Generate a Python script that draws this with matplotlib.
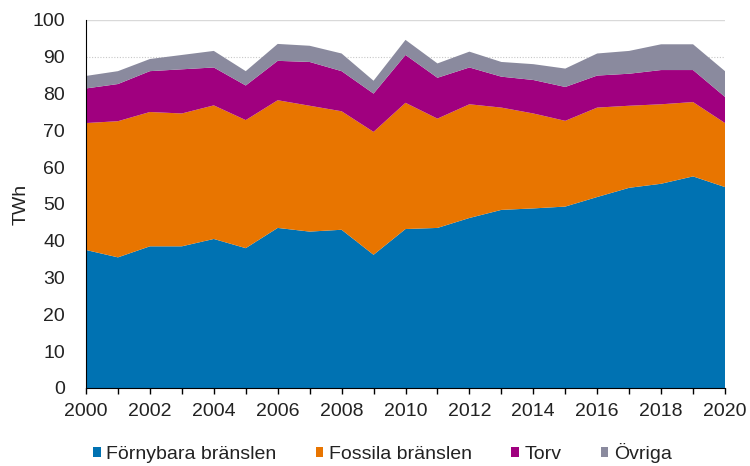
import matplotlib
matplotlib.use("Agg")
import matplotlib.pyplot as plt
from matplotlib.patches import Patch

years = list(range(2000, 2021))
fornybara = [37.5, 35.5, 38.5, 38.5, 40.5, 38.0, 43.5, 42.5, 43.0, 36.2, 43.2,
             43.5, 46.2, 48.4, 48.8, 49.3, 51.9, 54.4, 55.5, 57.5, 54.6]
fossila = [34.5, 37.0, 36.5, 36.1, 36.3, 34.8, 34.7, 34.2, 32.2, 33.4, 34.3,
           29.7, 30.9, 27.8, 25.8, 23.3, 24.3, 22.3, 21.6, 20.2, 17.4]
torv = [9.4, 10.1, 11.1, 12.0, 10.3, 9.4, 10.7, 11.9, 10.9, 10.4, 13.0,
        11.1, 10.0, 8.4, 9.1, 9.2, 8.7, 8.7, 9.3, 8.7, 7.1]
ovriga = [3.4, 3.5, 3.3, 3.9, 4.5, 3.9, 4.6, 4.4, 4.8, 3.5, 4.1,
          3.9, 4.3, 4.0, 4.3, 5.0, 6.0, 6.2, 7.0, 7.0, 7.0]
labels = ["Förnybara bränslen", "Fossila bränslen", "Torv", "Övriga"]
colors = ["#0072B2", "#E87500", "#A0007F", "#8A8A9E"]

plt.rcParams['font.family'] = ["Liberation Sans", "DejaVu Sans"]
fs = 14

fig = plt.figure(figsize=(7.5, 4.66), dpi=100)
ax = fig.add_axes([86/750, 1 - 388/466, (725 - 86)/750, (388 - 20)/466])

for yv in range(10, 100, 10):
    ax.axhline(yv, color="#c8c8c8", lw=0.8, ls=(0, (1, 1.5)), zorder=0)
ax.axhline(100, color="#d9d9d9", lw=1.0, zorder=0)

ax.stackplot(years, fornybara, fossila, torv, ovriga, colors=colors, lw=0, zorder=2)

ax.set_xlim(2000, 2020)
ax.set_ylim(0, 100)
ax.set_xticks(range(2000, 2021, 2))
ax.set_xticks(range(2000, 2021), minor=True)
ax.set_yticks(range(0, 101, 10))
ax.tick_params(axis="x", which="both", direction="out", length=4, width=1, color="black",
               labelsize=fs, pad=7, labelcolor="#222222")
ax.tick_params(axis="y", length=0, labelsize=fs, pad=15, labelcolor="#222222")
for s in ["top", "right"]:
    ax.spines[s].set_visible(False)
ax.spines["left"].set_color("black")
ax.spines["bottom"].set_color("black")
ax.spines["left"].set_zorder(3)

fig.text(21/750, 1 - 204/466, "TWh", rotation=90, ha="center", va="center",
         fontsize=fs, color="#222222")

handles = [Patch(facecolor=c, edgecolor="none") for c in colors]
fig.legend(handles, labels, loc="center", bbox_to_anchor=(382.5/750, 1 - 453/466), ncol=4,
           frameon=False, fontsize=fs, handlelength=0.4, handleheight=0.4,
           handletextpad=0.3, columnspacing=2.0, labelcolor="#222222")

fig.savefig("out.png", dpi=100)
